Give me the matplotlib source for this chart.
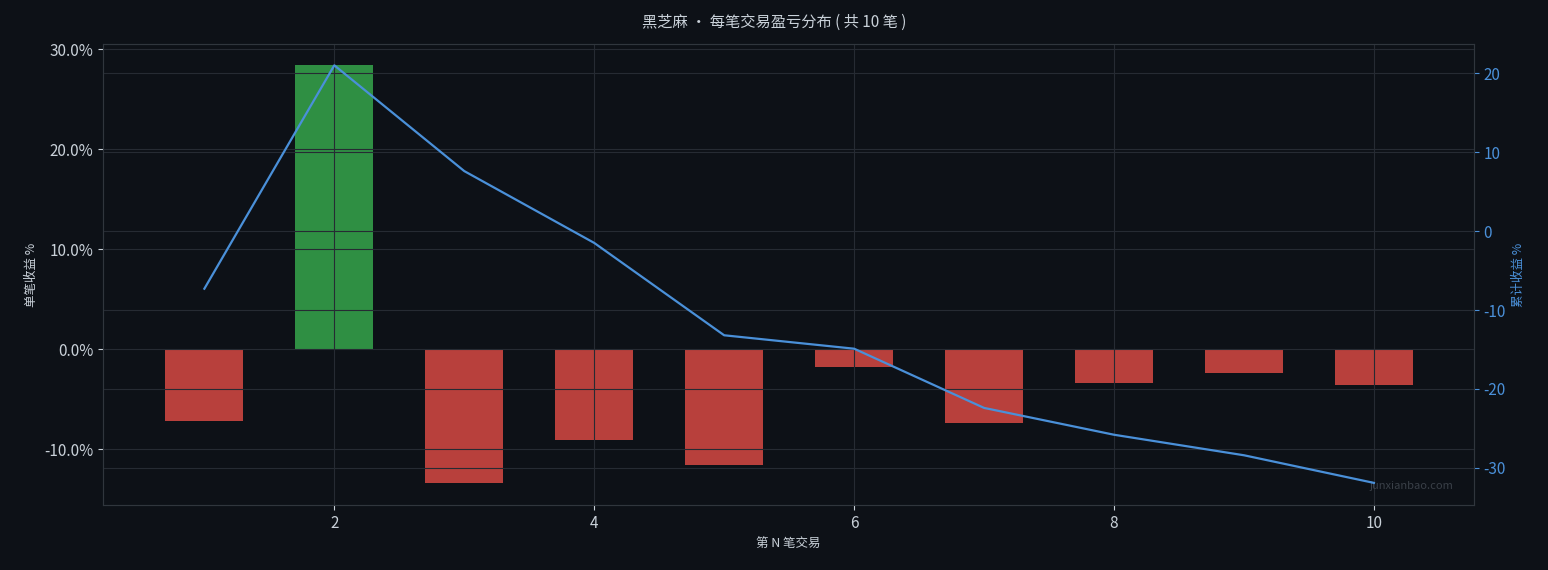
import matplotlib
matplotlib.use('Agg')
import matplotlib.pyplot as plt
from matplotlib.ticker import FuncFormatter

plt.rcParams['font.family'] = ['Noto Sans CJK SC', 'DejaVu Sans']
plt.rcParams['axes.unicode_minus'] = False

trades = [1, 2, 3, 4, 5, 6, 7, 8, 9, 10]
trade_pct = [-7.2, 28.4, -13.4, -9.1, -11.6, -1.8, -7.4, -3.4, -2.4, -3.6]
cum_pct = [-7.3, 21.0, 7.6, -1.5, -13.2, -14.9, -22.4, -25.8, -28.4, -31.9]

BG = '#0d1117'
GRID = '#262b33'
TXT = '#c9d1d9'
BLUE = '#4a90d9'

fig = plt.figure(figsize=(15.48, 5.7), dpi=100, facecolor=BG)
ax = fig.add_axes([103 / 1548, 65 / 570, 1371 / 1548, 461 / 570])
ax.set_facecolor(BG)

colors = ['#2f8f43' if v > 0 else '#b8403c' for v in trade_pct]
ax.bar(trades, trade_pct, width=0.6, color=colors, zorder=2)
ax.set_xlim(0.22, 10.77)
ax.set_ylim(-15.6, 30.5)
ax.yaxis.set_major_formatter(FuncFormatter(lambda v, p: f'{v:.1f}%'))
ax.set_xticks([2, 4, 6, 8, 10])
ax.grid(True, color=GRID, linewidth=0.8, zorder=3)
ax.set_axisbelow(False)
ax.set_xlabel('第 N 笔交易', color=TXT, fontsize=9)
ax.set_ylabel('单笔收益 %', color=TXT, fontsize=9)
ax.tick_params(colors=TXT, labelsize=11)

ax2 = ax.twinx()
ax2.plot(trades, cum_pct, color=BLUE, linewidth=1.6, zorder=4)
ax2.set_ylim(-34.7, 23.7)
ax2.set_yticks([-30, -20, -10, 0, 10, 20])
ax2.grid(True, axis='y', color=GRID, linewidth=0.8)
ax2.set_ylabel('累计收益 %', color=BLUE, fontsize=9)
ax2.tick_params(colors=BLUE, labelsize=11)

for a in (ax, ax2):
    for s in a.spines.values():
        s.set_color('#30363d')

ax.text(0.985, 0.03, 'junxianbao.com', transform=ax.transAxes, ha='right',
        va='bottom', color='#3a4048', fontsize=8, zorder=5)
fig.suptitle('黑芝麻 · 每笔交易盈亏分布 ( 共 10 笔 )', color=TXT, fontsize=11, y=0.975)

fig.savefig('out.png', dpi=100, facecolor=BG)
